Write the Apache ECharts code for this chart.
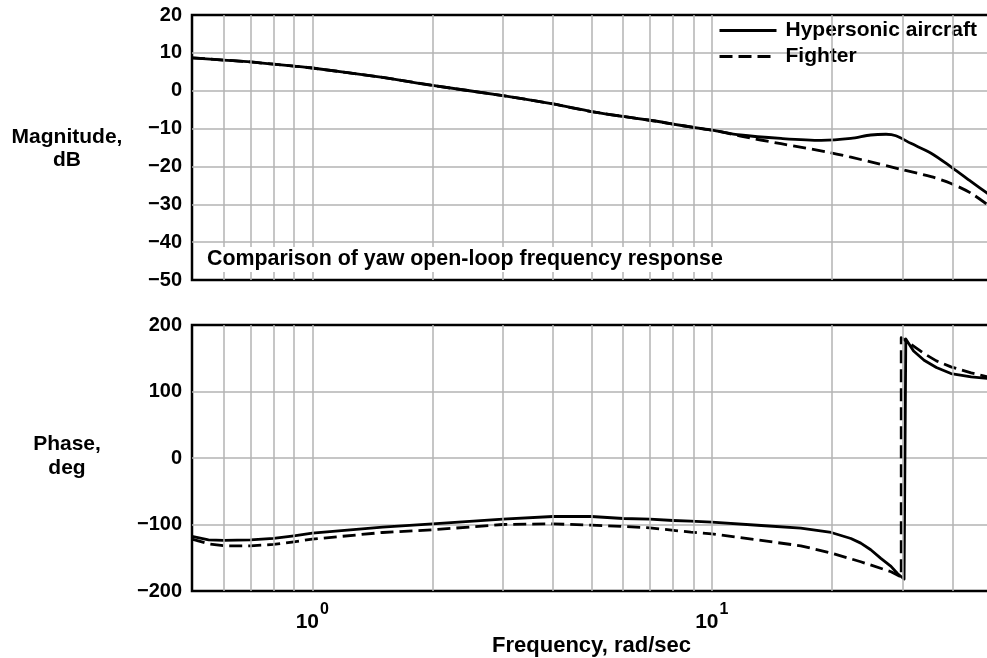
<!DOCTYPE html>
<html><head><meta charset="utf-8">
<script src="https://cdn.jsdelivr.net/npm/echarts@6/dist/echarts.min.js"></script>
<style>html,body{margin:0;padding:0;background:#fff}#c{width:987px;height:658px}</style>
</head><body><div id="c"></div>
<script>
// ---- Magnitude (dB) ----
const FREQ_MAG_HYPER = [0.5,0.6,0.7,0.8,0.9,1,1.5,2,3,4,5,6,7,8,9,10,11.8,14.9,18.8,22.3,25.0,27.3,28.9,31.5,35.4,39.7,44.6,50];
const MAG_HYPER      = [8.7,8.1,7.6,7.0,6.5,6.0,3.5,1.4,-1.3,-3.5,-5.5,-6.8,-7.8,-8.8,-9.7,-10.4,-11.7,-12.6,-13.1,-12.6,-11.7,-11.5,-11.9,-13.9,-16.5,-20.1,-24.0,-27.8];
const FREQ_MAG_FIGHTER = [0.5,0.6,0.7,0.8,0.9,1,1.5,2,3,4,5,6,7,8,9,10,10.5,11.8,14.9,19.9,25.0,29.8,35.4,39.7,44.6,50];
const MAG_FIGHTER      = [8.7,8.1,7.6,7.0,6.5,6.0,3.5,1.4,-1.3,-3.5,-5.5,-6.8,-7.8,-8.8,-9.7,-10.4,-10.8,-12.0,-14.0,-16.4,-18.8,-20.8,-22.7,-24.5,-27.1,-30.8];
// ---- Phase (deg) ----
const FREQ_PH_HYPER = [0.5,0.55,0.6,0.7,0.8,0.9,1,1.5,2,3,4,5,6,7,8,8.86,10,13.3,16.7,19.9,22.3,23.6,25.0,26.5,28.1,29.2,30.3,30.6,32.0,34.0,36.5,39.7,44.6,50];
const PH_HYPER      = [-118,-123,-124,-123,-121,-117,-113,-104,-99,-92,-88,-88,-91,-92,-94,-95,-96.5,-101.5,-105.5,-112,-121,-128,-138,-151,-163,-174,-182,179,161,147,136,127,122,119];
const FREQ_PH_FIGHTER = [0.5,0.55,0.6,0.7,0.8,0.9,1,1.5,2,3,4,5,6,7,8.86,10,13.3,16.7,19.9,23.6,28.1,29.8,29.8,31.0,34.0,36.5,39.7,44.6,50];
const PH_FIGHTER      = [-122,-129,-132,-132,-130,-126,-122,-112,-108,-100,-99,-101,-103,-105,-111.5,-114,-124,-132,-143,-156,-171,-179,181,174,157,146,137,128,121];
// ---- Axes ----
const FREQ_RANGE = [0.5, 50];
const MAG_RANGE = [-50, 20], MAG_STEP = 10;
const PH_RANGE = [-200, 200], PH_STEP = 100;
const GRID_FREQS = [0.6,0.7,0.8,0.9,1,2,3,4,5,6,7,8,9,10,20,30,40];
const SERIES_NAMES = ['Hypersonic aircraft', 'Fighter'];
const TITLE = 'Comparison of yaw open-loop frequency response';
const X_NAME = 'Frequency, rad/sec';
const Y_NAMES = ['Magnitude,\ndB', 'Phase,\ndeg'];

const zip = (a, b) => a.map((v, i) => [v, b[i]]);
const FONT = '"Liberation Sans", Arial, Helvetica, sans-serif';
const GRID_COLOR = '#b3b3b3';
const fmtY = v => (v < 0 ? '\u2212' + Math.abs(v) : String(v));

const chart = echarts.init(document.getElementById('c'));

function yAxis(gi, range, step) {
  return {
    type: 'value', gridIndex: gi, min: range[0], max: range[1], interval: step,
    axisLine: {show: false}, axisTick: {show: false},
    axisLabel: {fontSize: 20, fontWeight: 'bold', color: '#000', fontFamily: FONT, margin: 10, formatter: fmtY},
    splitLine: {show: true, showMinLine: false, showMaxLine: false, lineStyle: {color: GRID_COLOR, width: 1.5}}
  };
}
function gridLinesSeries(gi) {
  return {
    type: 'line', xAxisIndex: gi, yAxisIndex: gi, data: [], silent: true, z: 1,
    markLine: {
      silent: true, symbol: ['none', 'none'], label: {show: false}, animation: false,
      lineStyle: {color: GRID_COLOR, width: 1.5, type: 'solid'},
      emphasis: {disabled: true},
      data: GRID_FREQS.map(f => ({xAxis: f}))
    }
  };
}
function lineSeries(name, gi, data, dashed, smooth) {
  return {
    name, type: 'line', xAxisIndex: gi, yAxisIndex: gi, data,
    symbol: 'none', showSymbol: false, smooth: smooth, z: 3,
    emphasis: {disabled: true},
    lineStyle: {color: '#000', width: 2.8, type: dashed ? [13, 6] : 'solid', join: 'round'},
    itemStyle: {color: '#000'}
  };
}
const isPow10 = v => Math.abs(Math.log10(v) - Math.round(Math.log10(v))) < 1e-6;

const gridBase = {left: 192, width: 799, show: true, borderColor: '#000', borderWidth: 2.5,
                  backgroundColor: 'transparent', outerBoundsMode: 'none', containLabel: false};

const option = {
  animation: false,
  textStyle: {fontFamily: FONT},
  title: {
    text: TITLE, left: 203, top: 247, padding: [2, 4, 2, 4], backgroundColor: '#fff',
    textStyle: {fontSize: 21.4, fontWeight: 'bold', color: '#000', fontFamily: FONT}
  },
  legend: {
    data: SERIES_NAMES, orient: 'vertical', left: 718, top: 20, padding: 0,
    itemGap: 5, itemWidth: 57, itemHeight: 14, selectedMode: false,
    itemStyle: {opacity: 0},
    lineStyle: {width: 3, color: '#000'},
    textStyle: {fontSize: 21, fontWeight: 'bold', color: '#000', fontFamily: FONT, lineHeight: 21, padding: [0, 0, 0, 4]}
  },
  grid: [
    Object.assign({top: 15, height: 265}, gridBase),
    Object.assign({top: 325, height: 266}, gridBase)
  ],
  xAxis: [
    {type: 'log', logBase: 10, gridIndex: 0, min: FREQ_RANGE[0], max: FREQ_RANGE[1],
     axisLine: {show: false}, axisTick: {show: false}, axisLabel: {show: false}, splitLine: {show: false}},
    {type: 'log', logBase: 10, gridIndex: 1, min: FREQ_RANGE[0], max: FREQ_RANGE[1],
     axisLine: {show: false}, axisTick: {show: false}, splitLine: {show: false},
     axisLabel: {
       margin: 11,
       formatter: v => isPow10(v) ? '{a|10}{b|' + Math.round(Math.log10(v)) + '}' : '',
       rich: {
         a: {fontSize: 21, fontWeight: 'bold', color: '#000', fontFamily: FONT, verticalAlign: 'bottom'},
         b: {fontSize: 16, fontWeight: 'bold', color: '#000', fontFamily: FONT, verticalAlign: 'top', padding: [0, 0, 15, 1]}
       }
     },
     name: X_NAME, nameLocation: 'middle', nameGap: 44,
     nameTextStyle: {fontSize: 22, fontWeight: 'bold', color: '#000', fontFamily: FONT}}
  ],
  yAxis: [yAxis(0, MAG_RANGE, MAG_STEP), yAxis(1, PH_RANGE, PH_STEP)],
  graphic: [
    {type: 'text', x: 67, y: 149, style: {text: Y_NAMES[0], textAlign: 'center', textVerticalAlign: 'middle', font: 'bold 21px ' + FONT, lineHeight: 23, fill: '#000'}},
    {type: 'text', x: 67, y: 456, style: {text: Y_NAMES[1], textAlign: 'center', textVerticalAlign: 'middle', font: 'bold 21px ' + FONT, lineHeight: 24, fill: '#000'}}
  ],
  series: [
    gridLinesSeries(0),
    gridLinesSeries(1),
    lineSeries(SERIES_NAMES[0], 0, zip(FREQ_MAG_HYPER, MAG_HYPER), false, 0.3),
    lineSeries(SERIES_NAMES[1], 0, zip(FREQ_MAG_FIGHTER, MAG_FIGHTER), true, 0.3),
    lineSeries(SERIES_NAMES[0], 1, zip(FREQ_PH_HYPER, PH_HYPER), false, false),
    lineSeries(SERIES_NAMES[1], 1, zip(FREQ_PH_FIGHTER, PH_FIGHTER), true, false)
  ]
};
chart.setOption(option);
</script>
</body></html>
